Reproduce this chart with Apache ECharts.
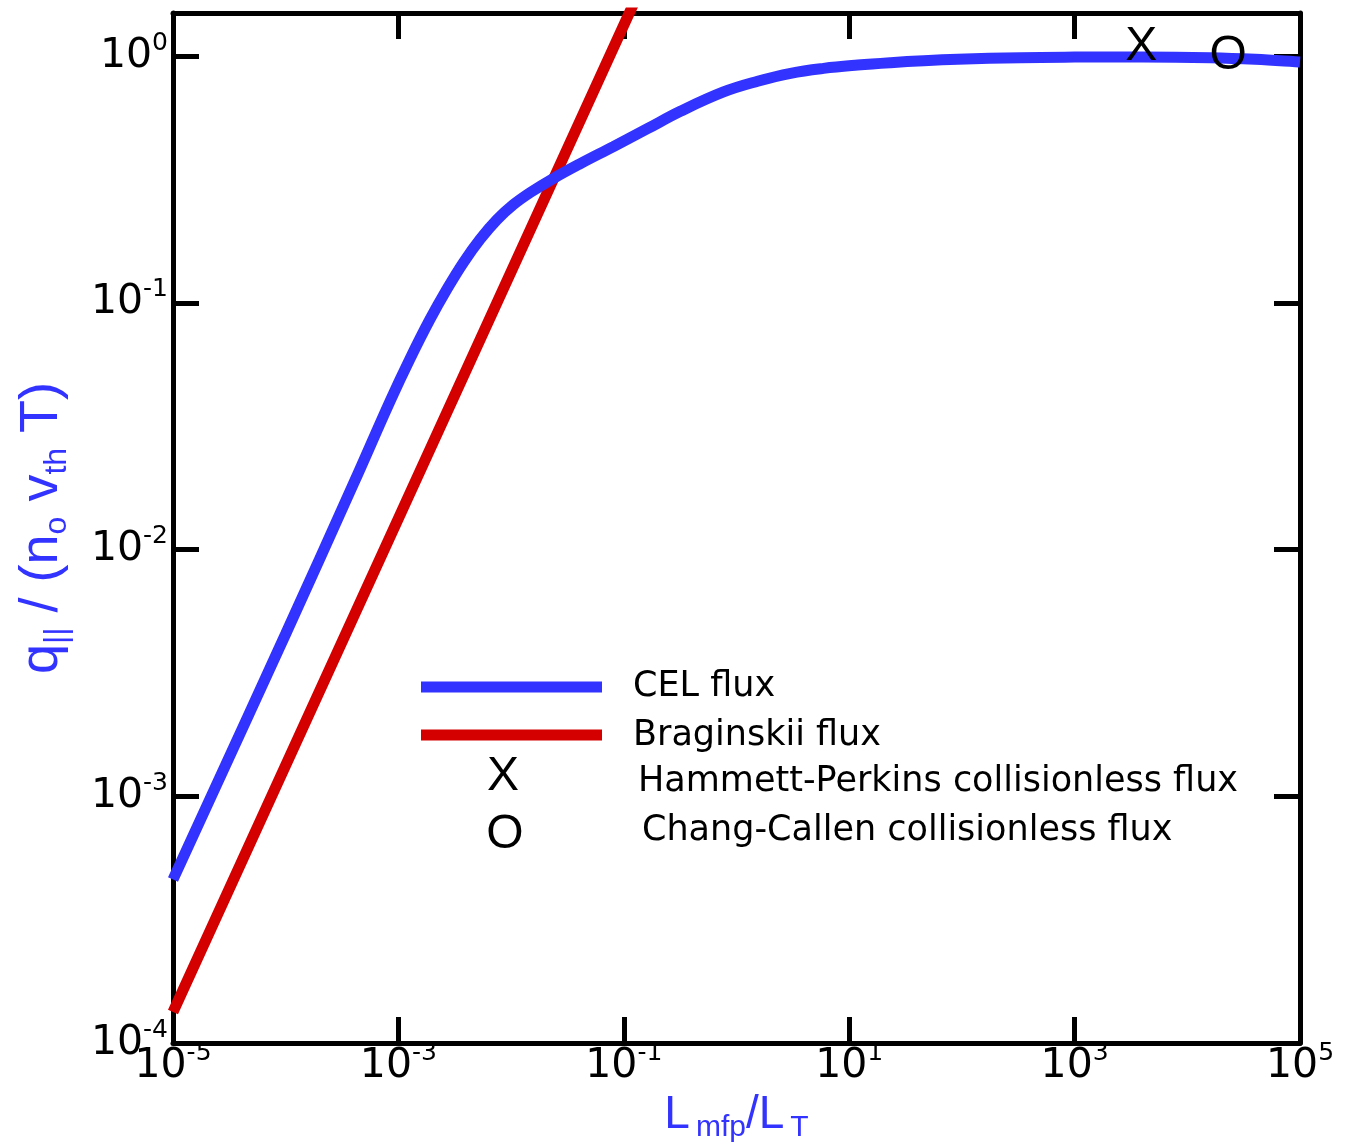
<!DOCTYPE html>
<html>
<head>
<meta charset="utf-8">
<script src="https://cdn.jsdelivr.net/npm/echarts@6/dist/echarts.min.js"></script>
<style>html,body{margin:0;padding:0;background:#fff}#c{width:1348px;height:1148px}</style>
</head>
<body>
<div id="c"></div>
<script>
// ---- data ----
const xTickValues = [1e-5, 1e-3, 1e-1, 1e1, 1e3, 1e5];
const yTickValues = [1e-4, 1e-3, 1e-2, 1e-1, 1];

const celX = [1e-5, 1e-4, 4e-4, 8.45e-4, 1.27e-3, 1.91e-3, 2.7e-3, 3.78e-3, 5.32e-3, 7.5e-3, 1.05e-2, 1.48e-2, 2.37e-2, 4.12e-2, 8.09e-2, 0.162, 0.318, 0.767, 1.54, 3.02, 5.93, 11.9, 23.3, 45.8, 91.8, 333, 1000, 4000, 16000, 40000, 1e5];
const celY = [4.6e-4, 4.55e-3, 0.0185, 0.040, 0.0594, 0.0858, 0.1137, 0.1457, 0.181, 0.2172, 0.25, 0.2798, 0.3192, 0.3665, 0.4296, 0.5074, 0.597, 0.715, 0.79, 0.851, 0.891, 0.919, 0.940, 0.957, 0.970, 0.985, 0.99, 0.992, 0.985, 0.97, 0.945];

const bragX = [1e-5, 1e-3, 0.2];
const bragY = [1.335e-4, 1.335e-2, 2.67];

const hpX = [3900];   // Hammett-Perkins marker "X"
const hpY = [1.09];
const ccX = [23000];  // Chang-Callen marker "O"
const ccY = [1.0];

const legendNames = ['CEL flux', 'Braginskii flux', 'Hammett-Perkins collisionless flux', 'Chang-Callen collisionless flux'];

// ---- chart ----
const BLUE = '#3333ff', RED = '#d40000';
const FONT = 'Liberation Sans';
const TFONT = 'DejaVu Sans';
const zip = (a, b) => a.map((v, i) => [v, b[i]]);
const expLabel = v => '{b|10}{s|' + Math.round(Math.log10(v)) + '}';
const tickRich = {
  b: { fontSize: 41, fontFamily: TFONT, color: '#000', lineHeight: 44, padding: [7, 0, 0, 0] },
  s: { fontSize: 25, fontFamily: TFONT, color: '#000', lineHeight: 26, verticalAlign: 'top' }
};
const axisLineStyle = { show: true, lineStyle: { color: '#000', width: 5 } };
const tickStyle = (vals) => ({ show: true, inside: true, length: 26, lineStyle: { color: '#000', width: 5 }, customValues: vals });
const legendFont = '35px "DejaVu Sans"';

const glyphSeries = (name, xs, ys, glyph) => ({
  name, type: 'custom', data: zip(xs, ys), z: 5,
  renderItem: (params, api) => {
    const p = api.coord([api.value(0), api.value(1)]);
    return {
      type: 'text', x: p[0], y: p[1],
      style: { text: glyph, fill: '#000', font: '48px "Liberation Sans"', align: 'center', verticalAlign: 'middle' }
    };
  }
});

const chart = echarts.init(document.getElementById('c'), null, { renderer: 'canvas' });
chart.setOption({
  animation: false,
  backgroundColor: '#fff',
  grid: { left: 173, right: 48, top: 13, bottom: 101, containLabel: false },
  xAxis: [
    {
      type: 'log', logBase: 10, min: 1e-5, max: 1e5, position: 'bottom',
      axisLine: axisLineStyle, splitLine: { show: false }, minorTick: { show: false },
      axisTick: tickStyle(xTickValues),
      axisLabel: { show: true, margin: -2, formatter: expLabel, rich: tickRich, customValues: xTickValues, showMinLabel: true, showMaxLabel: true },
      name: '{L|L}{sub|mfp}{L|/L}{sub|T}',
      nameLocation: 'middle', nameGap: 44,
      nameTextStyle: {
        color: BLUE,
        rich: {
          L: { fontSize: 46, fontFamily: FONT, color: BLUE, lineHeight: 56 },
          sub: { fontSize: 30, fontFamily: FONT, color: BLUE, lineHeight: 30, verticalAlign: 'bottom', padding: [0, 0, 0, 6] }
        }
      }
    },
    {
      type: 'log', logBase: 10, min: 1e-5, max: 1e5, position: 'top',
      axisLine: axisLineStyle, splitLine: { show: false },
      axisTick: tickStyle(xTickValues), axisLabel: { show: false }
    }
  ],
  yAxis: [
    {
      type: 'log', logBase: 10, min: 1e-4, max: 1.494, position: 'left',
      axisLine: axisLineStyle, splitLine: { show: false }, minorTick: { show: false },
      axisTick: tickStyle(yTickValues),
      axisLabel: { show: true, margin: 5, padding: [0, 0, 7, 0], formatter: expLabel, rich: tickRich, customValues: yTickValues, showMinLabel: true, showMaxLabel: true },
      name: '{b|q}{sub|||}{b| / (n}{sub|o}{b| v}{sub|th}{b| T)}',
      nameLocation: 'middle', nameGap: 100, nameRotate: 90,
      nameTextStyle: {
        color: BLUE,
        rich: {
          b: { fontSize: 54, fontFamily: FONT, color: BLUE, lineHeight: 62 },
          sub: { fontSize: 32, fontFamily: FONT, color: BLUE, lineHeight: 32, verticalAlign: 'bottom' }
        }
      }
    },
    {
      type: 'log', logBase: 10, min: 1e-4, max: 1.494, position: 'right',
      axisLine: axisLineStyle, splitLine: { show: false },
      axisTick: tickStyle(yTickValues), axisLabel: { show: false }
    }
  ],
  series: [
    {
      name: legendNames[0], type: 'line', data: zip(celX, celY),
      xAxisIndex: 0, yAxisIndex: 0, symbol: 'none', smooth: 0.4, clip: true,
      lineStyle: { color: BLUE, width: 11 }, z: 3
    },
    {
      name: legendNames[1], type: 'line', data: zip(bragX, bragY),
      xAxisIndex: 0, yAxisIndex: 0, symbol: 'none', clip: true,
      lineStyle: { color: RED, width: 11 }, z: 2
    },
    glyphSeries(legendNames[2], hpX, hpY, 'X'),
    glyphSeries(legendNames[3], ccX, ccY, 'O')
  ],
  graphic: [
    { type: 'line', shape: { x1: 421, y1: 687, x2: 602, y2: 687 }, style: { stroke: BLUE, lineWidth: 11 } },
    { type: 'line', shape: { x1: 421, y1: 735, x2: 602, y2: 735 }, style: { stroke: RED, lineWidth: 11 } },
    { type: 'text', x: 503, y: 777, style: { text: 'X', fill: '#000', font: '48px "Liberation Sans"', align: 'center', verticalAlign: 'middle' } },
    { type: 'text', x: 505, y: 835, style: { text: 'O', fill: '#000', font: '48px "Liberation Sans"', align: 'center', verticalAlign: 'middle' } },
    { type: 'text', x: 633, y: 687, style: { text: legendNames[0], fill: '#000', font: legendFont, verticalAlign: 'middle' } },
    { type: 'text', x: 633, y: 736, style: { text: legendNames[1], fill: '#000', font: legendFont, verticalAlign: 'middle' } },
    { type: 'text', x: 638, y: 782, style: { text: legendNames[2], fill: '#000', font: legendFont, verticalAlign: 'middle' } },
    { type: 'text', x: 642, y: 831, style: { text: legendNames[3], fill: '#000', font: legendFont, verticalAlign: 'middle' } }
  ]
});
</script>
</body>
</html>
